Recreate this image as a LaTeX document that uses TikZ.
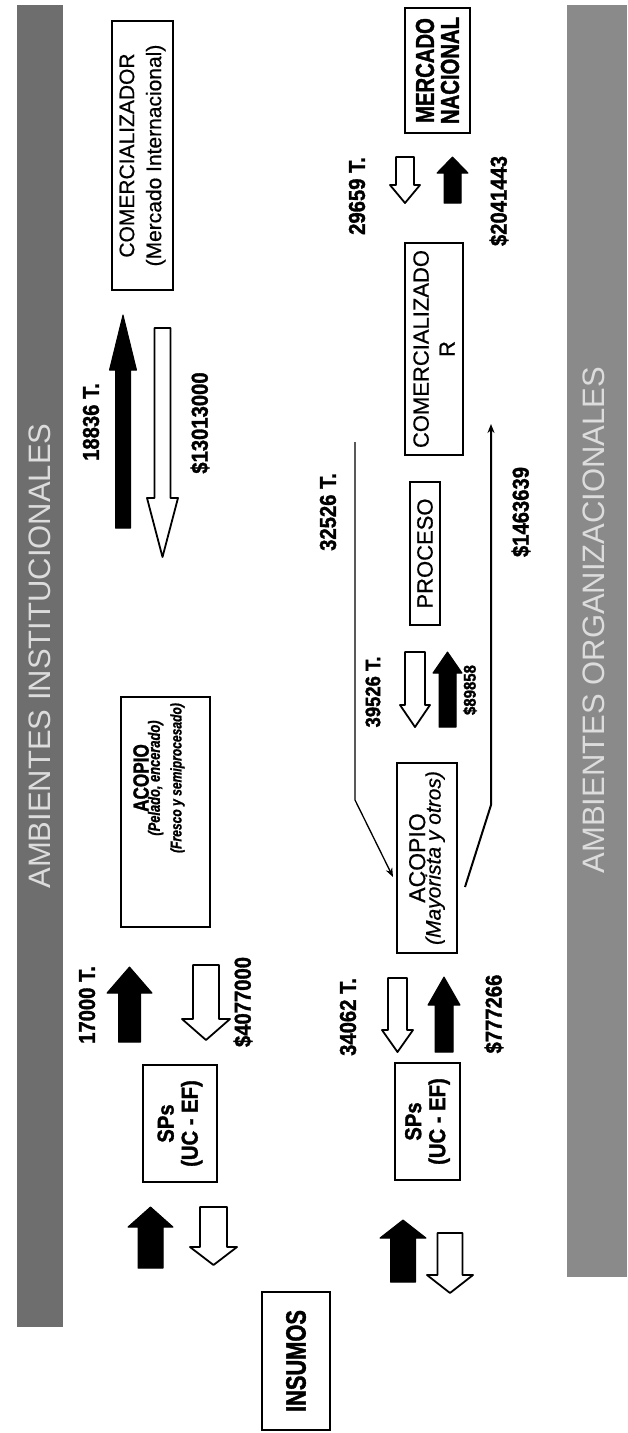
\documentclass[tikz,border=0pt]{standalone}
\usepackage{fontspec}
\setmainfont{Liberation Sans}
\newfontfamily\med[FakeBold=0.6]{Liberation Sans}
\newfontfamily\lab[FakeStretch=0.88, BoldFeatures={FakeBold=1.4}, BoldItalicFeatures={FakeBold=1.4}]{Liberation Sans}
\newfontfamily\cnd[FakeStretch=0.78, BoldFeatures={FakeBold=1.4}, BoldItalicFeatures={FakeBold=1.2}]{Liberation Sans}
\usetikzlibrary{arrows.meta}
\definecolor{bandA}{HTML}{6E6E6E}
\definecolor{bandB}{HTML}{8A8A8A}
\definecolor{bandtext}{HTML}{DCDCDC}
\newcommand\blockarrow[7]{%
  \draw[#1] ({#2-#6},#3) -- ({#2-#6},#4) -- ({#2-#7},#4) -- (#2,#5)
    -- ({#2+#7},#4) -- ({#2+#6},#4) -- ({#2+#6},#3) -- cycle;}
\tikzset{
  box/.style={draw, line width=1.6pt, rotate=90, inner sep=0pt, align=center},
  boldbox/.style={box, line width=2pt},
  lbl/.style={rotate=90, inner sep=0pt, font=\lab\bfseries\fontsize{23}{26}\selectfont},
  blk/.style={fill=black, draw=black, line width=1pt, line join=round},
  wht/.style={fill=white, draw=black, line width=1.8pt, line join=round},
  bandtxt/.style={rotate=90, inner sep=0pt, text=bandtext, font=\fontsize{31}{31}\selectfont},
  thinconn/.style={line width=1.3pt, -{Stealth[length=9pt,width=7pt]}},
  thickconn/.style={line width=2pt, -{Stealth[length=9pt,width=7pt]}},
}
\begin{document}
\begin{tikzpicture}[x=1pt,y=-1pt]
\useasboundingbox[fill=white] (0,0) rectangle (628,1433);

% bands
\fill[bandA] (17,5) rectangle (63,1327);
\node[bandtxt] (bandI) at (40,656) {AMBIENTES INSTITUCIONALES};
\fill[bandB] (567,5) rectangle (627,1277);
\node[bandtxt] (bandO) at (594,620) {AMBIENTES ORGANIZACIONALES};

% boxes (upper chain)
\node[box, line width=1.8pt, minimum width=269pt, minimum height=61pt,
      font=\med\fontsize{21}{27}\selectfont] (cmi) at (142.5,155.5)
      {COMERCIALIZADOR\\(Mercado Internacional)};
\node[boldbox, minimum width=230pt, minimum height=89pt] (acA) at (165.5,812) {};
\node[rotate=90, inner sep=0pt, align=center] (acAt) at (159,778)
  {{\cnd\bfseries\fontsize{22}{22}\selectfont ACOPIO}\\[-2pt]
   {\cnd\bfseries\itshape\fontsize{16.5}{18}\selectfont (Pelado, encerado)}\\[6pt]
   {\cnd\bfseries\itshape\fontsize{15.5}{18}\selectfont (Fresco y semiprocesado)}};
\node[boldbox, minimum width=117pt, minimum height=74pt,
      font=\lab\bfseries\fontsize{23}{24}\selectfont] (spA) at (180,1123.5)
      {SPs\\(UC - EF)};
\node[boldbox, minimum width=138pt, minimum height=68pt,
      font=\cnd\bfseries\fontsize{28}{28}\selectfont] (ins) at (296,1361) {INSUMOS};

% boxes (lower chain)
\node[boldbox, minimum width=125pt, minimum height=65pt,
      font=\cnd\bfseries\fontsize{26}{25}\selectfont] (mn) at (437.5,70.5)
      {MERCADO\\NACIONAL};
\node[box, minimum width=212pt, minimum height=58pt,
      font=\med\fontsize{22}{26}\selectfont] (cmb) at (434,349) {COMERCIALIZADO\\R};
\node[box, minimum width=143pt, minimum height=30pt,
      font=\med\fontsize{22}{24}\selectfont] (pro) at (425,553.5) {PROCESO};
\node[box, minimum width=190pt, minimum height=60pt, font=\med] (acB) at (427,858)
  {{\fontsize{23}{23}\selectfont ACOPIO}\\[-1pt]
   {\itshape\fontsize{21}{23}\selectfont (Mayorista y otros)}};
\node[boldbox, minimum width=117pt, minimum height=65pt,
      font=\lab\bfseries\fontsize{23}{24}\selectfont] (spB) at (427.5,1121.5)
      {SPs\\(UC - EF)};

% block arrows: style, x centre, y tail, y head base, y tip, half shaft, half head
\blockarrow{blk}{123}{528}{370}{315}{7.5}{13.5}
\blockarrow{wht}{162.5}{328}{498}{557}{8}{15.5}
\blockarrow{blk}{129.5}{1042}{993}{967}{11}{22.5}
\blockarrow{wht}{206}{965}{1019}{1040}{13}{24}
\blockarrow{blk}{150.5}{1268}{1227}{1207}{12.5}{22.5}
\blockarrow{wht}{213.5}{1207}{1247}{1265}{13.5}{23.5}
\blockarrow{wht}{397.5}{978}{1030}{1052}{9.5}{15.5}
\blockarrow{blk}{444}{1052}{1005}{977}{9}{16}
\blockarrow{blk}{403}{1282}{1238}{1220}{12.5}{23}
\blockarrow{wht}{450}{1233}{1275}{1293}{12.5}{23}
\blockarrow{wht}{415}{652}{705}{727}{10}{15}
\blockarrow{blk}{447.5}{727}{673}{652}{8.5}{14.5}
\blockarrow{wht}{405}{157}{185}{203}{9}{15}
\blockarrow{blk}{452.5}{203}{173}{157}{8.5}{15.5}

% labels
\node[lbl] (l1) at (91,422) {18836 T.};
\node[lbl] (l2) at (200,423) {\$13013000};
\node[lbl] (l3) at (87,1005) {17000 T.};
\node[lbl] (l4) at (243,1002) {\$4077000};
\node[lbl] (l5) at (348,1017) {34062 T.};
\node[lbl] (l6) at (494,1014) {\$777266};
\node[lbl, font=\lab\bfseries\fontsize{21}{24}\selectfont] (l7) at (373,692) {39526 T.};
\node[lbl, font=\lab\bfseries\fontsize{17}{20}\selectfont] (l8) at (470,690) {\$89858};
\node[lbl] (l9) at (328,512) {32526 T.};
\node[lbl] (l10) at (521,512) {\$1463639};
\node[lbl] (l11) at (357,196) {29659 T.};
\node[lbl] (l12) at (499,201) {\$2041443};

% long connectors
\coordinate (u0) at (355,442);
\coordinate (u1) at (355,800);
\coordinate (uTip) at (393,877);
\draw[thinconn] (u0) -- (u1) -- (uTip);
\coordinate (d0) at (465,887);
\coordinate (d1) at (491,805);
\coordinate (dTip) at (491,424);
\draw[thickconn] (d0) -- (d1) -- (dTip);
\end{tikzpicture}
\end{document}
